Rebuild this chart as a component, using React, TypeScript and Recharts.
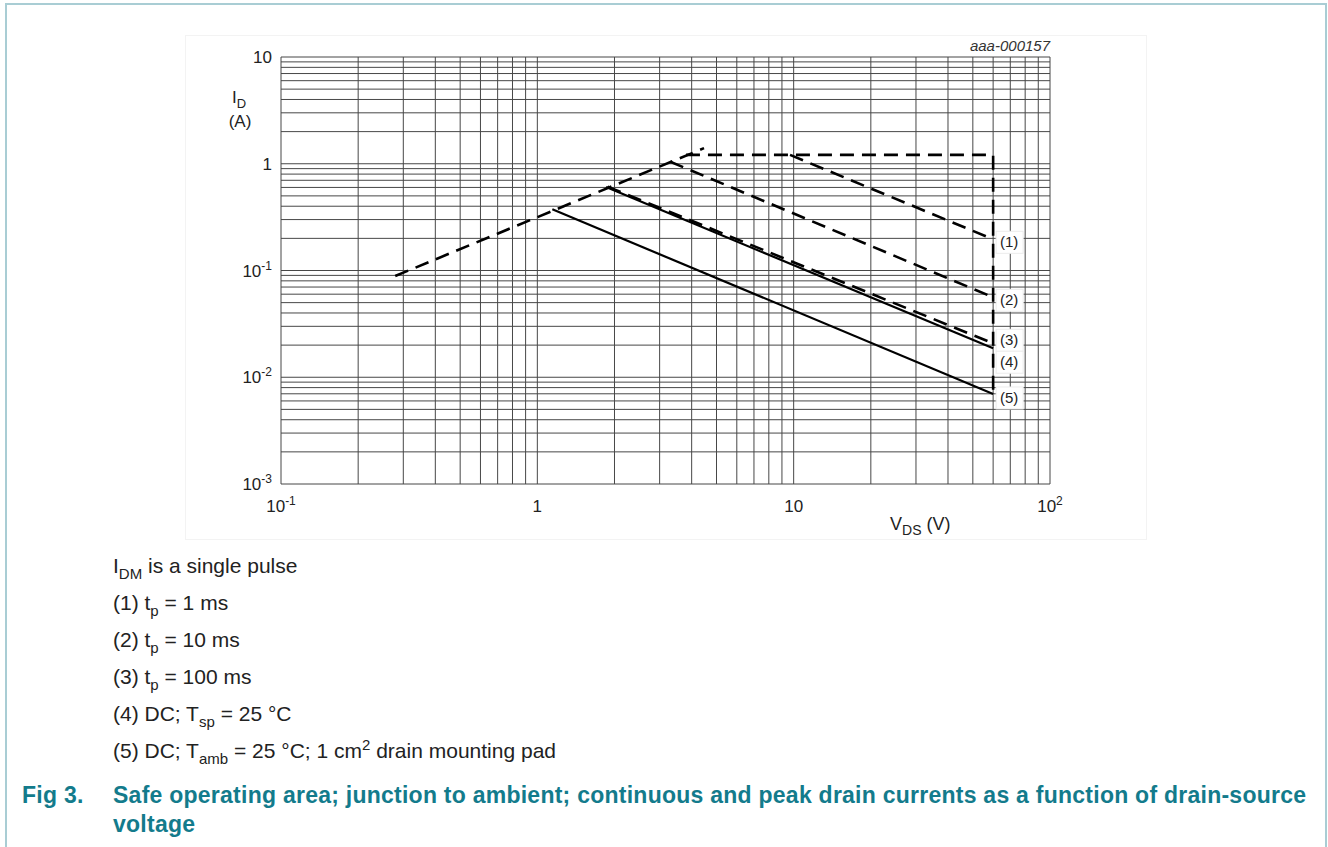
import React from 'react';
import { LineChart, Line, XAxis, YAxis, CartesianGrid, LabelList } from 'recharts';

const FONT = '"Liberation Sans", Arial, Helvetica, sans-serif';
const TEAL = '#137b8c';

// grid positions (log axes: decades + 2..9 minors)
const xGrid = [
  0.1, 0.2, 0.3, 0.4, 0.5, 0.6, 0.7, 0.8, 0.9,
  1, 2, 3, 4, 5, 6, 7, 8, 9,
  10, 20, 30, 40, 50, 60, 70, 80, 90,
  100,
];
const yGrid = [
  0.001, 0.002, 0.003, 0.004, 0.005, 0.006, 0.007, 0.008, 0.009,
  0.01, 0.02, 0.03, 0.04, 0.05, 0.06, 0.07, 0.08, 0.09,
  0.1, 0.2, 0.3, 0.4, 0.5, 0.6, 0.7, 0.8, 0.9,
  1, 2, 3, 4, 5, 6, 7, 8, 9,
  10,
];

// decade labels: base + superscript exponent
const xTickLabels = [
  { v: 0.1, base: '10', exp: '-1' },
  { v: 1, base: '1', exp: '' },
  { v: 10, base: '10', exp: '' },
  { v: 100, base: '10', exp: '2' },
];
const yTickLabels = [
  { v: 10, base: '10', exp: '' },
  { v: 1, base: '1', exp: '' },
  { v: 0.1, base: '10', exp: '-1' },
  { v: 0.01, base: '10', exp: '-2' },
  { v: 0.001, base: '10', exp: '-3' },
];

// curves (VDS in V, ID in A)
const rdsonLimit = [{ x: 0.279, y: 0.0888 }, { x: 4.47, y: 1.4 }];
const peakLimit = [{ x: 3.8, y: 1.21 }, { x: 60, y: 1.21 }, { x: 60, y: 0.0072 }];
const tp1ms = [{ x: 9.68, y: 1.21 }, { x: 60, y: 0.196 }];
const tp10ms = [{ x: 3.3, y: 1.045 }, { x: 60, y: 0.0561 }];
const tp100ms = [{ x: 1.88, y: 0.61 }, { x: 60, y: 0.0208 }];
const dcTsp = [{ x: 1.854, y: 0.605 }, { x: 60, y: 0.0187 }];
const dcTamb = [{ x: 1.144, y: 0.3745 }, { x: 60, y: 0.00697 }];

const findLabel = (list: any[], value: number) =>
  list.find((l) => Math.abs(l.v - value) < l.v * 1e-6);

const XTick = (props: any) => {
  const { x, y, payload } = props;
  const lab = findLabel(xTickLabels, payload.value);
  if (!lab) return <g />;
  return (
    <text x={x} y={y + 20} textAnchor="middle" fontSize={17} fill="#222" fontFamily={FONT}>
      {lab.base}
      {lab.exp && <tspan dy={-7} fontSize={12}>{lab.exp}</tspan>}
    </text>
  );
};

const YTick = (props: any) => {
  const { x, y, payload } = props;
  const lab = findLabel(yTickLabels, payload.value);
  if (!lab) return <g />;
  return (
    <text x={x - 1} y={y + 6} textAnchor="end" fontSize={17} fill="#222" fontFamily={FONT}>
      {lab.base}
      {lab.exp && <tspan dy={-7} fontSize={12}>{lab.exp}</tspan>}
    </text>
  );
};

const tag = (text: string, dy: number) => (props: any) => {
  const { x, y, index } = props;
  if (index !== 1) return null;
  return (
    <g>
      <rect x={x + 3} y={y + dy - 11} width={27} height={22} fill="#fff" stroke="#ececec" />
      <text x={x + 16} y={y + dy + 5} textAnchor="middle" fontSize={15} fill="#222" fontFamily={FONT}>
        {text}
      </text>
    </g>
  );
};

const DASH = '14 8';

export default function App() {
  return (
    <div
      style={{
        position: 'fixed',
        left: 0,
        top: 0,
        width: 1328,
        height: 847,
        background: '#fff',
        overflow: 'hidden',
        fontFamily: FONT,
      }}
    >
      <div
        style={{
          position: 'absolute',
          left: 5,
          top: 3,
          width: 1322,
          height: 900,
          boxSizing: 'border-box',
          border: '2px solid #a9cdd4',
          borderBottom: 'none',
        }}
      />
      <div
        style={{
          position: 'absolute',
          left: 185,
          top: 35,
          width: 962,
          height: 505,
          boxSizing: 'border-box',
          border: '1px solid #f3f3f3',
        }}
      />

      <div style={{ position: 'absolute', left: 0, top: 0 }}>
        <LineChart width={1100} height={540} margin={{ top: 57, right: 50, bottom: 0, left: 221 }}>
          <CartesianGrid stroke="#474747" strokeWidth={1} />
          <XAxis
            type="number"
            dataKey="x"
            scale="log"
            domain={[0.1, 100]}
            ticks={xGrid}
            interval={0}
            allowDataOverflow
            height={56}
            tickLine={false}
            axisLine={false}
            tick={<XTick />}
          />
          <YAxis
            type="number"
            dataKey="y"
            scale="log"
            domain={[0.001, 10]}
            ticks={yGrid}
            interval={0}
            allowDataOverflow
            width={60}
            tickLine={false}
            axisLine={false}
            tick={<YTick />}
          />
          <Line data={rdsonLimit} dataKey="y" stroke="#000" strokeWidth={2.6} strokeDasharray={DASH} dot={false} isAnimationActive={false} />
          <Line data={peakLimit} dataKey="y" stroke="#000" strokeWidth={2.6} strokeDasharray={DASH} dot={false} isAnimationActive={false} />
          <Line data={tp1ms} dataKey="y" stroke="#000" strokeWidth={2.6} strokeDasharray={DASH} dot={false} isAnimationActive={false}>
            <LabelList dataKey="y" content={tag('(1)', 3)} />
          </Line>
          <Line data={tp10ms} dataKey="y" stroke="#000" strokeWidth={2.6} strokeDasharray={DASH} dot={false} isAnimationActive={false}>
            <LabelList dataKey="y" content={tag('(2)', 3)} />
          </Line>
          <Line data={tp100ms} dataKey="y" stroke="#000" strokeWidth={2.6} strokeDasharray={DASH} dot={false} isAnimationActive={false}>
            <LabelList dataKey="y" content={tag('(3)', -3)} />
          </Line>
          <Line data={dcTsp} dataKey="y" stroke="#000" strokeWidth={2.2} dot={false} isAnimationActive={false}>
            <LabelList dataKey="y" content={tag('(4)', 14)} />
          </Line>
          <Line data={dcTamb} dataKey="y" stroke="#000" strokeWidth={2.2} dot={false} isAnimationActive={false}>
            <LabelList dataKey="y" content={tag('(5)', 4)} />
          </Line>
        </LineChart>
      </div>

      <svg
        width={1328}
        height={847}
        style={{ position: 'absolute', left: 0, top: 0, pointerEvents: 'none' }}
        fontFamily={FONT}
      >
        <text x={1050} y={51} textAnchor="end" fontSize={15} fontStyle="italic" fill="#333">
          aaa-000157
        </text>

        <text x={232} y={103} fontSize={17} fill="#222">
          I<tspan dy={5} fontSize={13}>D</tspan>
        </text>
        <text x={240} y={127} textAnchor="middle" fontSize={17} fill="#222">
          (A)
        </text>
        <text x={890} y={530} fontSize={18} fill="#222">
          V<tspan dy={5} fontSize={14}>DS</tspan>
          <tspan dy={-5}> (V)</tspan>
        </text>

        <g fontSize={21} fill="#222">
          <text x={113} y={573}>
            I<tspan dy={6} fontSize={15}>DM</tspan>
            <tspan dy={-6}> is a single pulse</tspan>
          </text>
          <text x={113} y={610}>
            (1) t<tspan dy={6} fontSize={15}>p</tspan>
            <tspan dy={-6}> = 1 ms</tspan>
          </text>
          <text x={113} y={647}>
            (2) t<tspan dy={6} fontSize={15}>p</tspan>
            <tspan dy={-6}> = 10 ms</tspan>
          </text>
          <text x={113} y={684}>
            (3) t<tspan dy={6} fontSize={15}>p</tspan>
            <tspan dy={-6}> = 100 ms</tspan>
          </text>
          <text x={113} y={721}>
            (4) DC; T<tspan dy={6} fontSize={15}>sp</tspan>
            <tspan dy={-6}> = 25 °C</tspan>
          </text>
          <text x={113} y={758}>
            (5) DC; T<tspan dy={6} fontSize={15}>amb</tspan>
            <tspan dy={-6}> = 25 °C; 1 cm</tspan>
            <tspan dy={-8} fontSize={15}>2</tspan>
            <tspan dy={8}> drain mounting pad</tspan>
          </text>
        </g>

        <g fontSize={23} fontWeight="bold" fill={TEAL} letterSpacing={0.25}>
          <text x={22} y={803}>Fig 3.</text>
          <text x={113} y={803}>
            Safe operating area; junction to ambient; continuous and peak drain currents as a function of drain-source
          </text>
          <text x={113} y={832}>voltage</text>
        </g>
      </svg>
    </div>
  );
}
